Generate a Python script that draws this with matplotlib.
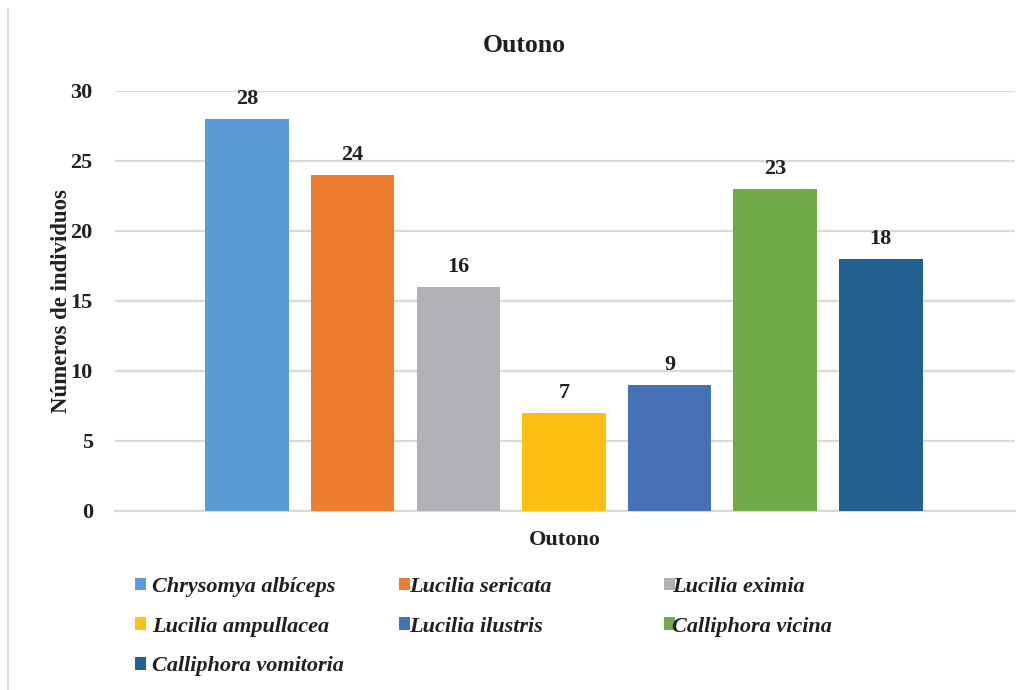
import matplotlib
matplotlib.use('Agg')
import matplotlib.pyplot as plt
from matplotlib.patches import Patch
from matplotlib.lines import Line2D

# Indivíduos coletados no outono, por espécie
especies = ['Chrysomya albíceps', 'Lucilia sericata', 'Lucilia eximia',
            'Lucilia ampullacea', 'Lucilia ilustris', 'Calliphora vicina',
            'Calliphora vomitoria']
individuos = [28, 24, 16, 7, 9, 23, 18]
cores = ['#5B9BD5', '#ED7D31', '#B0B1B4', '#FBC012', '#4670B8', '#70AB47', '#22608F']
yticks = [0, 5, 10, 15, 20, 25, 30]

texto = '#231F20'
plt.rcParams['font.family'] = ['Liberation Serif', 'DejaVu Serif']
plt.rcParams['font.weight'] = 'bold'

fig = plt.figure(figsize=(10.31, 6.9), dpi=100)
W, H = 1031, 690
ax = fig.add_axes([115 / W, (H - 511) / H, 900 / W, 420 / H])

index = range(len(especies))
barras = ax.bar(index, individuos, 0.79, color=cores, zorder=3)

for x, v in zip(index, individuos):
    ax.annotate(str(v), (x, v), xytext=(0, 7), textcoords='offset points',
                ha='center', va='bottom', fontsize=16, fontweight='bold', color=texto)

ax.set_xlim(-1.25, 7.27)
ax.set_ylim(0, 30)
ax.set_yticks(yticks)
ax.set_xticks([])
ax.grid(axis='y', color='#D9D9D9', linewidth=1.6, zorder=0)
for s in ['top', 'right', 'left']:
    ax.spines[s].set_visible(False)
ax.spines['bottom'].set_color('#D9D9D9')
ax.spines['bottom'].set_linewidth(1.6)
ax.tick_params(axis='y', length=0, pad=16, labelsize=16, labelcolor=texto)
for lbl in ax.get_yticklabels():
    lbl.set_fontweight('bold')

ax.set_xlabel('Outono', fontsize=16, fontweight='bold', color=texto, labelpad=14)
ax.set_ylabel('Números de individuos', fontsize=16.5, fontweight='bold', color=texto, labelpad=-1)
fig.text(524 / W, 1 - 46 / H, 'Outono', ha='center', va='center',
         fontsize=18.5, fontweight='bold', color=texto)

# legenda em três colunas, preenchida por linha
colunas = [[0, 3, 6], [1, 4], [2, 5]]
col_x = [135, 399, 664]
pads = [0.25, -0.05, -0.15]
for c, (idx, x0, pad) in enumerate(zip(colunas, col_x, pads)):
    handles = [Patch(facecolor=cores[i], edgecolor='none') for i in idx]
    labels = [especies[i] for i in idx]
    leg = fig.legend(handles, labels, loc='upper left',
                     bbox_to_anchor=(x0 / W, 1 - 577 / H), frameon=False,
                     prop={'family': ['Liberation Serif'], 'style': 'italic',
                           'weight': 'bold', 'size': 16},
                     handlelength=0.5, handleheight=0.5, handletextpad=pad,
                     labelspacing=0.88, borderpad=0, borderaxespad=0,
                     labelcolor=texto)

# borda esquerda do quadro do gráfico
fig.add_artist(Line2D([7.5 / W, 7.5 / W], [0, 1 - 9 / H], color='#D9D9D9', linewidth=1.5))

fig.savefig('out.png', dpi=100, facecolor='white')
